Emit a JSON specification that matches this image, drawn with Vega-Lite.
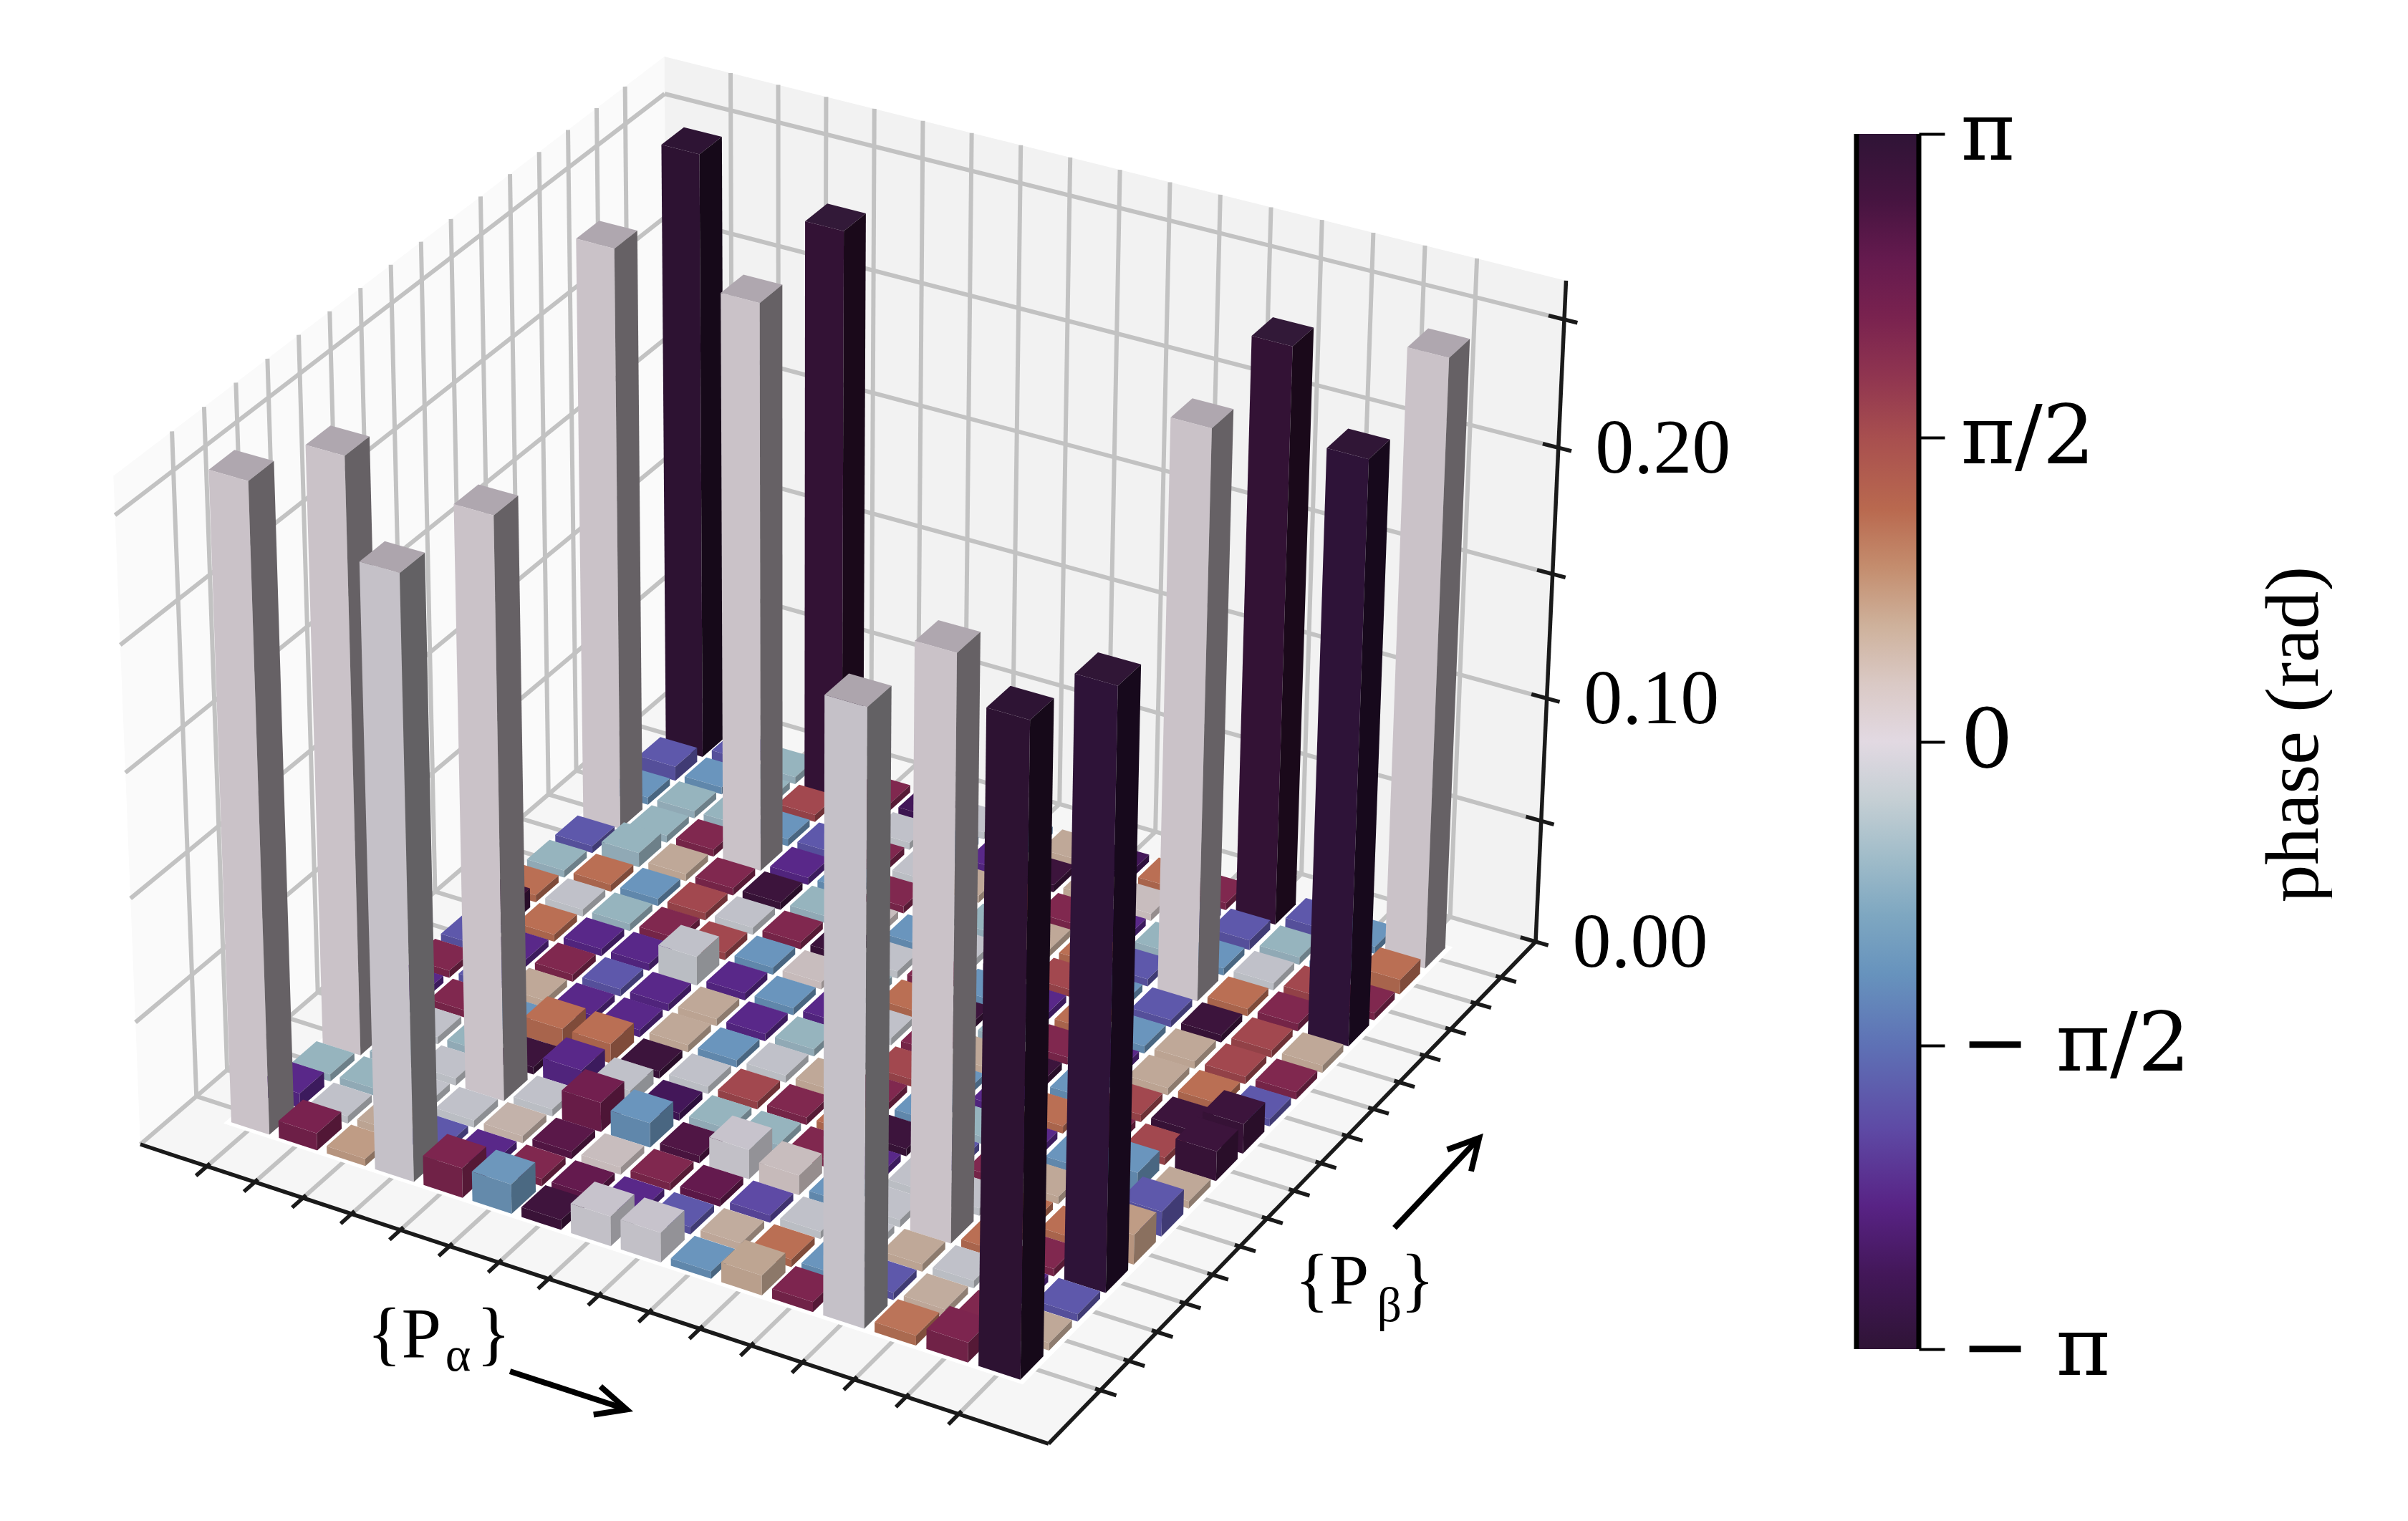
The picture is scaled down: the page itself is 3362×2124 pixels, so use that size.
{
"$schema":"https://vega.github.io/schema/vega-lite/v6.json",
"padding":0,
"background":"white",
"config":{"view":{"stroke":null}},
"spacing":0,
"datasets":{
"bars":[
{"i":0,"j":15,"h":0.25,"phase":3.1},{"i":1,"j":15,"h":0.004,"phase":-1.85},{"i":2,"j":15,"h":0.003,"phase":-0.6},{"i":3,"j":15,"h":0.234,"phase":3.0},{"i":4,"j":15,"h":0.003,"phase":2.1},{"i":5,"j":15,"h":0.003,"phase":-2.75},{"i":6,"j":15,"h":0.003,"phase":-0.2},{"i":7,"j":15,"h":0.003,"phase":-1.15},{"i":8,"j":15,"h":0.003,"phase":0.55},{"i":9,"j":15,"h":0.003,"phase":-2.75},{"i":10,"j":15,"h":0.003,"phase":1.15},{"i":11,"j":15,"h":0.003,"phase":2.1},{"i":12,"j":15,"h":0.234,"phase":3.0},{"i":13,"j":15,"h":0.004,"phase":-1.85},{"i":14,"j":15,"h":0.003,"phase":-1.15},{"i":15,"j":15,"h":0.245,"phase":0.03},
{"i":0,"j":14,"h":0.006,"phase":-1.85},{"i":1,"j":14,"h":0.003,"phase":-1.15},{"i":2,"j":14,"h":0.003,"phase":-0.6},{"i":3,"j":14,"h":0.003,"phase":1.65},{"i":4,"j":14,"h":0.003,"phase":2.1},{"i":5,"j":14,"h":0.003,"phase":-0.2},{"i":6,"j":14,"h":0.003,"phase":-1.15},{"i":7,"j":14,"h":0.003,"phase":-2.35},{"i":8,"j":14,"h":0.003,"phase":2.95},{"i":9,"j":14,"h":0.003,"phase":0.55},{"i":10,"j":14,"h":0.003,"phase":0.2},{"i":11,"j":14,"h":0.003,"phase":-1.85},{"i":12,"j":14,"h":0.004,"phase":-1.85},{"i":13,"j":14,"h":0.003,"phase":-0.6},{"i":14,"j":14,"h":0.003,"phase":-1.15},{"i":15,"j":14,"h":0.006,"phase":1.15},
{"i":0,"j":13,"h":0.003,"phase":-1.15},{"i":1,"j":13,"h":0.003,"phase":-0.6},{"i":2,"j":13,"h":0.003,"phase":-0.6},{"i":3,"j":13,"h":0.003,"phase":-1.15},{"i":4,"j":13,"h":0.003,"phase":-1.85},{"i":5,"j":13,"h":0.003,"phase":2.1},{"i":6,"j":13,"h":0.003,"phase":-0.2},{"i":7,"j":13,"h":0.003,"phase":0.55},{"i":8,"j":13,"h":0.003,"phase":1.65},{"i":9,"j":13,"h":0.003,"phase":2.1},{"i":10,"j":13,"h":0.003,"phase":-2.35},{"i":11,"j":13,"h":0.003,"phase":-0.6},{"i":12,"j":13,"h":0.003,"phase":-1.15},{"i":13,"j":13,"h":0.003,"phase":-0.2},{"i":14,"j":13,"h":0.003,"phase":1.65},{"i":15,"j":13,"h":0.003,"phase":2.1},
{"i":0,"j":12,"h":0.239,"phase":0.03},{"i":1,"j":12,"h":0.003,"phase":-0.6},{"i":2,"j":12,"h":0.003,"phase":2.1},{"i":3,"j":12,"h":0.2325,"phase":0.03},{"i":4,"j":12,"h":0.003,"phase":-2.35},{"i":5,"j":12,"h":0.003,"phase":-1.15},{"i":6,"j":12,"h":0.003,"phase":2.1},{"i":7,"j":12,"h":0.003,"phase":-0.2},{"i":8,"j":12,"h":0.003,"phase":-0.6},{"i":9,"j":12,"h":0.003,"phase":0.55},{"i":10,"j":12,"h":0.003,"phase":1.15},{"i":11,"j":12,"h":0.003,"phase":-1.85},{"i":12,"j":12,"h":0.23,"phase":0.03},{"i":13,"j":12,"h":0.003,"phase":1.15},{"i":14,"j":12,"h":0.003,"phase":2.1},{"i":15,"j":12,"h":0.234,"phase":-3.05},
{"i":0,"j":11,"h":0.003,"phase":-1.85},{"i":1,"j":11,"h":0.006,"phase":-0.6},{"i":2,"j":11,"h":0.003,"phase":0.55},{"i":3,"j":11,"h":0.003,"phase":2.1},{"i":4,"j":11,"h":0.003,"phase":2.95},{"i":5,"j":11,"h":0.003,"phase":-0.6},{"i":6,"j":11,"h":0.003,"phase":0.2},{"i":7,"j":11,"h":0.003,"phase":-1.15},{"i":8,"j":11,"h":0.003,"phase":-0.2},{"i":9,"j":11,"h":0.003,"phase":-2.75},{"i":10,"j":11,"h":0.003,"phase":1.65},{"i":11,"j":11,"h":0.003,"phase":-1.15},{"i":12,"j":11,"h":0.003,"phase":-1.85},{"i":13,"j":11,"h":0.003,"phase":2.95},{"i":14,"j":11,"h":0.003,"phase":1.65},{"i":15,"j":11,"h":0.003,"phase":0.55},
{"i":0,"j":10,"h":0.003,"phase":-0.6},{"i":1,"j":10,"h":0.003,"phase":1.15},{"i":2,"j":10,"h":0.003,"phase":-1.15},{"i":3,"j":10,"h":0.003,"phase":1.65},{"i":4,"j":10,"h":0.003,"phase":-0.2},{"i":5,"j":10,"h":0.003,"phase":2.1},{"i":6,"j":10,"h":0.003,"phase":2.95},{"i":7,"j":10,"h":0.003,"phase":-0.2},{"i":8,"j":10,"h":0.003,"phase":2.1},{"i":9,"j":10,"h":0.003,"phase":-1.15},{"i":10,"j":10,"h":0.003,"phase":-2.35},{"i":11,"j":10,"h":0.003,"phase":1.15},{"i":12,"j":10,"h":0.003,"phase":-1.15},{"i":13,"j":10,"h":0.003,"phase":0.55},{"i":14,"j":10,"h":0.003,"phase":1.65},{"i":15,"j":10,"h":0.003,"phase":2.1},
{"i":0,"j":9,"h":0.003,"phase":1.15},{"i":1,"j":9,"h":0.003,"phase":-0.2},{"i":2,"j":9,"h":0.003,"phase":-0.6},{"i":3,"j":9,"h":0.003,"phase":2.1},{"i":4,"j":9,"h":0.003,"phase":1.65},{"i":5,"j":9,"h":0.003,"phase":-1.15},{"i":6,"j":9,"h":0.003,"phase":0.2},{"i":7,"j":9,"h":0.003,"phase":-0.6},{"i":8,"j":9,"h":0.003,"phase":1.15},{"i":9,"j":9,"h":0.003,"phase":2.95},{"i":10,"j":9,"h":0.003,"phase":-0.6},{"i":11,"j":9,"h":0.003,"phase":2.1},{"i":12,"j":9,"h":0.003,"phase":-2.35},{"i":13,"j":9,"h":0.003,"phase":0.55},{"i":14,"j":9,"h":0.003,"phase":1.15},{"i":15,"j":9,"h":0.003,"phase":-1.85},
{"i":0,"j":8,"h":0.008,"phase":2.95},{"i":1,"j":8,"h":0.003,"phase":1.15},{"i":2,"j":8,"h":0.003,"phase":-2.35},{"i":3,"j":8,"h":0.003,"phase":-2.35},{"i":4,"j":8,"h":0.012,"phase":-0.2},{"i":5,"j":8,"h":0.003,"phase":-2.35},{"i":6,"j":8,"h":0.003,"phase":-1.15},{"i":7,"j":8,"h":0.003,"phase":-2.35},{"i":8,"j":8,"h":0.003,"phase":-0.2},{"i":9,"j":8,"h":0.003,"phase":2.1},{"i":10,"j":8,"h":0.003,"phase":0.55},{"i":11,"j":8,"h":0.003,"phase":2.95},{"i":12,"j":8,"h":0.003,"phase":-1.15},{"i":13,"j":8,"h":0.003,"phase":1.65},{"i":14,"j":8,"h":0.003,"phase":2.95},{"i":15,"j":8,"h":0.012,"phase":2.95},
{"i":0,"j":7,"h":0.003,"phase":-1.85},{"i":1,"j":7,"h":0.003,"phase":-2.35},{"i":2,"j":7,"h":0.003,"phase":2.1},{"i":3,"j":7,"h":0.003,"phase":-1.85},{"i":4,"j":7,"h":0.003,"phase":-2.35},{"i":5,"j":7,"h":0.003,"phase":0.55},{"i":6,"j":7,"h":0.003,"phase":-2.35},{"i":7,"j":7,"h":0.003,"phase":-0.6},{"i":8,"j":7,"h":0.003,"phase":-0.2},{"i":9,"j":7,"h":0.003,"phase":1.65},{"i":10,"j":7,"h":0.003,"phase":-1.15},{"i":11,"j":7,"h":0.003,"phase":-2.35},{"i":12,"j":7,"h":0.003,"phase":1.15},{"i":13,"j":7,"h":0.003,"phase":2.1},{"i":14,"j":7,"h":0.003,"phase":1.65},{"i":15,"j":7,"h":0.012,"phase":2.95},
{"i":0,"j":6,"h":0.003,"phase":2.1},{"i":1,"j":6,"h":0.003,"phase":-1.85},{"i":2,"j":6,"h":0.003,"phase":0.55},{"i":3,"j":6,"h":0.003,"phase":-2.35},{"i":4,"j":6,"h":0.003,"phase":-2.35},{"i":5,"j":6,"h":0.003,"phase":0.55},{"i":6,"j":6,"h":0.003,"phase":-1.15},{"i":7,"j":6,"h":0.003,"phase":-0.2},{"i":8,"j":6,"h":0.003,"phase":0.55},{"i":9,"j":6,"h":0.003,"phase":2.1},{"i":10,"j":6,"h":0.003,"phase":-1.15},{"i":11,"j":6,"h":0.003,"phase":-0.6},{"i":12,"j":6,"h":0.003,"phase":-2.35},{"i":13,"j":6,"h":0.003,"phase":-1.15},{"i":14,"j":6,"h":0.008,"phase":-1.15},{"i":15,"j":6,"h":0.003,"phase":0.55},
{"i":0,"j":5,"h":0.003,"phase":-2.35},{"i":1,"j":5,"h":0.003,"phase":2.1},{"i":2,"j":5,"h":0.003,"phase":-1.15},{"i":3,"j":5,"h":0.008,"phase":1.15},{"i":4,"j":5,"h":0.008,"phase":1.15},{"i":5,"j":5,"h":0.003,"phase":2.95},{"i":6,"j":5,"h":0.003,"phase":-0.2},{"i":7,"j":5,"h":0.003,"phase":1.65},{"i":8,"j":5,"h":0.003,"phase":2.1},{"i":9,"j":5,"h":0.003,"phase":1.15},{"i":10,"j":5,"h":0.003,"phase":2.95},{"i":11,"j":5,"h":0.003,"phase":-1.85},{"i":12,"j":5,"h":0.003,"phase":2.1},{"i":13,"j":5,"h":0.003,"phase":0.55},{"i":14,"j":5,"h":0.003,"phase":-0.2},{"i":15,"j":5,"h":0.01,"phase":-1.85},
{"i":0,"j":4,"h":0.003,"phase":-0.6},{"i":1,"j":4,"h":0.003,"phase":-0.2},{"i":2,"j":4,"h":0.003,"phase":-0.6},{"i":3,"j":4,"h":0.003,"phase":2.95},{"i":4,"j":4,"h":0.008,"phase":-2.35},{"i":5,"j":4,"h":0.006,"phase":-0.2},{"i":6,"j":4,"h":0.003,"phase":-2.75},{"i":7,"j":4,"h":0.003,"phase":-0.6},{"i":8,"j":4,"h":0.003,"phase":-0.6},{"i":9,"j":4,"h":0.003,"phase":2.1},{"i":10,"j":4,"h":0.003,"phase":-2.35},{"i":11,"j":4,"h":0.003,"phase":-0.2},{"i":12,"j":4,"h":0.003,"phase":-0.2},{"i":13,"j":4,"h":0.003,"phase":1.15},{"i":14,"j":4,"h":0.003,"phase":1.15},{"i":15,"j":4,"h":0.012,"phase":0.7},
{"i":0,"j":3,"h":0.2406,"phase":0.03},{"i":1,"j":3,"h":0.003,"phase":-0.6},{"i":2,"j":3,"h":0.003,"phase":-0.2},{"i":3,"j":3,"h":0.2337,"phase":0.03},{"i":4,"j":3,"h":0.003,"phase":-0.2},{"i":5,"j":3,"h":0.012,"phase":2.3},{"i":6,"j":3,"h":0.01,"phase":-1.15},{"i":7,"j":3,"h":0.003,"phase":2.7},{"i":8,"j":3,"h":0.012,"phase":-0.1},{"i":9,"j":3,"h":0.008,"phase":0.2},{"i":10,"j":3,"h":0.003,"phase":-1.15},{"i":11,"j":3,"h":0.003,"phase":-0.2},{"i":12,"j":3,"h":0.231,"phase":0.03},{"i":13,"j":3,"h":0.003,"phase":1.15},{"i":14,"j":3,"h":0.003,"phase":2.1},{"i":15,"j":3,"h":0.2356,"phase":-3.05},
{"i":0,"j":2,"h":0.003,"phase":-0.6},{"i":1,"j":2,"h":0.003,"phase":-0.6},{"i":2,"j":2,"h":0.003,"phase":-0.2},{"i":3,"j":2,"h":0.003,"phase":-0.2},{"i":4,"j":2,"h":0.003,"phase":0.4},{"i":5,"j":2,"h":0.003,"phase":2.6},{"i":6,"j":2,"h":0.003,"phase":0.2},{"i":7,"j":2,"h":0.003,"phase":2.1},{"i":8,"j":2,"h":0.003,"phase":2.5},{"i":9,"j":2,"h":0.003,"phase":-2.0},{"i":10,"j":2,"h":0.003,"phase":-0.2},{"i":11,"j":2,"h":0.003,"phase":-0.2},{"i":12,"j":2,"h":0.003,"phase":0.55},{"i":13,"j":2,"h":0.003,"phase":-0.2},{"i":14,"j":2,"h":0.003,"phase":-2.35},{"i":15,"j":2,"h":0.003,"phase":-1.85},
{"i":0,"j":1,"h":0.006,"phase":-2.35},{"i":1,"j":1,"h":0.003,"phase":-0.2},{"i":2,"j":1,"h":0.003,"phase":0.55},{"i":3,"j":1,"h":0.003,"phase":-1.85},{"i":4,"j":1,"h":0.003,"phase":-2.35},{"i":5,"j":1,"h":0.003,"phase":2.1},{"i":6,"j":1,"h":0.003,"phase":2.5},{"i":7,"j":1,"h":0.003,"phase":-2.35},{"i":8,"j":1,"h":0.003,"phase":-1.85},{"i":9,"j":1,"h":0.003,"phase":0.5},{"i":10,"j":1,"h":0.003,"phase":1.15},{"i":11,"j":1,"h":0.003,"phase":-1.15},{"i":12,"j":1,"h":0.003,"phase":-1.85},{"i":13,"j":1,"h":0.003,"phase":0.5},{"i":14,"j":1,"h":0.003,"phase":2.1},{"i":15,"j":1,"h":0.003,"phase":0.55},
{"i":0,"j":0,"h":0.2594,"phase":0.03},{"i":1,"j":0,"h":0.007,"phase":2.2},{"i":2,"j":0,"h":0.003,"phase":0.7},{"i":3,"j":0,"h":0.2406,"phase":-0.07},{"i":4,"j":0,"h":0.012,"phase":2.15},{"i":5,"j":0,"h":0.012,"phase":-1.1},{"i":6,"j":0,"h":0.004,"phase":2.9},{"i":7,"j":0,"h":0.012,"phase":-0.1},{"i":8,"j":0,"h":0.012,"phase":-0.1},{"i":9,"j":0,"h":0.003,"phase":-1.15},{"i":10,"j":0,"h":0.008,"phase":0.6},{"i":11,"j":0,"h":0.004,"phase":2.15},{"i":12,"j":0,"h":0.2406,"phase":-0.07},{"i":13,"j":0,"h":0.004,"phase":1.1},{"i":14,"j":0,"h":0.008,"phase":2.15},{"i":15,"j":0,"h":0.253,"phase":3.1}
],
"walls":[
{"wall":"left","k":0,"u":-1.4,"v":-1.8,"z":0},{"wall":"left","k":1,"u":-1.4,"v":16.4,"z":0},{"wall":"left","k":2,"u":-1.4,"v":16.4,"z":0.265},{"wall":"left","k":3,"u":-1.4,"v":-1.8,"z":0.265},
{"wall":"back","k":0,"u":-1.4,"v":16.4,"z":0},{"wall":"back","k":1,"u":16.7,"v":16.4,"z":0},{"wall":"back","k":2,"u":16.7,"v":16.4,"z":0.265},{"wall":"back","k":3,"u":-1.4,"v":16.4,"z":0.265},
{"wall":"floor","k":0,"u":-1.4,"v":-1.8,"z":0},{"wall":"floor","k":1,"u":16.7,"v":-1.8,"z":0},{"wall":"floor","k":2,"u":16.7,"v":16.4,"z":0},{"wall":"floor","k":3,"u":-1.4,"v":16.4,"z":0}
],
"inner":[
{"k":0,"u":-0.5,"v":-0.5,"z":0},{"k":1,"u":15.5,"v":-0.5,"z":0},{"k":2,"u":15.5,"v":15.5,"z":0},{"k":3,"u":-0.5,"v":15.5,"z":0}
],
"grid":[
{"u0":0,"v0":-1.8,"z0":0,"u1":0,"v1":16.4,"z1":0},{"u0":1,"v0":-1.8,"z0":0,"u1":1,"v1":16.4,"z1":0},{"u0":2,"v0":-1.8,"z0":0,"u1":2,"v1":16.4,"z1":0},{"u0":3,"v0":-1.8,"z0":0,"u1":3,"v1":16.4,"z1":0},{"u0":4,"v0":-1.8,"z0":0,"u1":4,"v1":16.4,"z1":0},{"u0":5,"v0":-1.8,"z0":0,"u1":5,"v1":16.4,"z1":0},{"u0":6,"v0":-1.8,"z0":0,"u1":6,"v1":16.4,"z1":0},{"u0":7,"v0":-1.8,"z0":0,"u1":7,"v1":16.4,"z1":0},{"u0":8,"v0":-1.8,"z0":0,"u1":8,"v1":16.4,"z1":0},{"u0":9,"v0":-1.8,"z0":0,"u1":9,"v1":16.4,"z1":0},{"u0":10,"v0":-1.8,"z0":0,"u1":10,"v1":16.4,"z1":0},{"u0":11,"v0":-1.8,"z0":0,"u1":11,"v1":16.4,"z1":0},{"u0":12,"v0":-1.8,"z0":0,"u1":12,"v1":16.4,"z1":0},{"u0":13,"v0":-1.8,"z0":0,"u1":13,"v1":16.4,"z1":0},{"u0":14,"v0":-1.8,"z0":0,"u1":14,"v1":16.4,"z1":0},{"u0":15,"v0":-1.8,"z0":0,"u1":15,"v1":16.4,"z1":0},
{"u0":-1.4,"v0":0,"z0":0,"u1":16.7,"v1":0,"z1":0},{"u0":-1.4,"v0":1,"z0":0,"u1":16.7,"v1":1,"z1":0},{"u0":-1.4,"v0":2,"z0":0,"u1":16.7,"v1":2,"z1":0},{"u0":-1.4,"v0":3,"z0":0,"u1":16.7,"v1":3,"z1":0},{"u0":-1.4,"v0":4,"z0":0,"u1":16.7,"v1":4,"z1":0},{"u0":-1.4,"v0":5,"z0":0,"u1":16.7,"v1":5,"z1":0},{"u0":-1.4,"v0":6,"z0":0,"u1":16.7,"v1":6,"z1":0},{"u0":-1.4,"v0":7,"z0":0,"u1":16.7,"v1":7,"z1":0},{"u0":-1.4,"v0":8,"z0":0,"u1":16.7,"v1":8,"z1":0},{"u0":-1.4,"v0":9,"z0":0,"u1":16.7,"v1":9,"z1":0},{"u0":-1.4,"v0":10,"z0":0,"u1":16.7,"v1":10,"z1":0},{"u0":-1.4,"v0":11,"z0":0,"u1":16.7,"v1":11,"z1":0},{"u0":-1.4,"v0":12,"z0":0,"u1":16.7,"v1":12,"z1":0},{"u0":-1.4,"v0":13,"z0":0,"u1":16.7,"v1":13,"z1":0},{"u0":-1.4,"v0":14,"z0":0,"u1":16.7,"v1":14,"z1":0},{"u0":-1.4,"v0":15,"z0":0,"u1":16.7,"v1":15,"z1":0},
{"u0":0,"v0":16.4,"z0":0,"u1":0,"v1":16.4,"z1":0.265},{"u0":1,"v0":16.4,"z0":0,"u1":1,"v1":16.4,"z1":0.265},{"u0":2,"v0":16.4,"z0":0,"u1":2,"v1":16.4,"z1":0.265},{"u0":3,"v0":16.4,"z0":0,"u1":3,"v1":16.4,"z1":0.265},{"u0":4,"v0":16.4,"z0":0,"u1":4,"v1":16.4,"z1":0.265},{"u0":5,"v0":16.4,"z0":0,"u1":5,"v1":16.4,"z1":0.265},{"u0":6,"v0":16.4,"z0":0,"u1":6,"v1":16.4,"z1":0.265},{"u0":7,"v0":16.4,"z0":0,"u1":7,"v1":16.4,"z1":0.265},{"u0":8,"v0":16.4,"z0":0,"u1":8,"v1":16.4,"z1":0.265},{"u0":9,"v0":16.4,"z0":0,"u1":9,"v1":16.4,"z1":0.265},{"u0":10,"v0":16.4,"z0":0,"u1":10,"v1":16.4,"z1":0.265},{"u0":11,"v0":16.4,"z0":0,"u1":11,"v1":16.4,"z1":0.265},{"u0":12,"v0":16.4,"z0":0,"u1":12,"v1":16.4,"z1":0.265},{"u0":13,"v0":16.4,"z0":0,"u1":13,"v1":16.4,"z1":0.265},{"u0":14,"v0":16.4,"z0":0,"u1":14,"v1":16.4,"z1":0.265},{"u0":15,"v0":16.4,"z0":0,"u1":15,"v1":16.4,"z1":0.265},
{"u0":-1.4,"v0":0,"z0":0,"u1":-1.4,"v1":0,"z1":0.265},{"u0":-1.4,"v0":1,"z0":0,"u1":-1.4,"v1":1,"z1":0.265},{"u0":-1.4,"v0":2,"z0":0,"u1":-1.4,"v1":2,"z1":0.265},{"u0":-1.4,"v0":3,"z0":0,"u1":-1.4,"v1":3,"z1":0.265},{"u0":-1.4,"v0":4,"z0":0,"u1":-1.4,"v1":4,"z1":0.265},{"u0":-1.4,"v0":5,"z0":0,"u1":-1.4,"v1":5,"z1":0.265},{"u0":-1.4,"v0":6,"z0":0,"u1":-1.4,"v1":6,"z1":0.265},{"u0":-1.4,"v0":7,"z0":0,"u1":-1.4,"v1":7,"z1":0.265},{"u0":-1.4,"v0":8,"z0":0,"u1":-1.4,"v1":8,"z1":0.265},{"u0":-1.4,"v0":9,"z0":0,"u1":-1.4,"v1":9,"z1":0.265},{"u0":-1.4,"v0":10,"z0":0,"u1":-1.4,"v1":10,"z1":0.265},{"u0":-1.4,"v0":11,"z0":0,"u1":-1.4,"v1":11,"z1":0.265},{"u0":-1.4,"v0":12,"z0":0,"u1":-1.4,"v1":12,"z1":0.265},{"u0":-1.4,"v0":13,"z0":0,"u1":-1.4,"v1":13,"z1":0.265},{"u0":-1.4,"v0":14,"z0":0,"u1":-1.4,"v1":14,"z1":0.265},{"u0":-1.4,"v0":15,"z0":0,"u1":-1.4,"v1":15,"z1":0.265},
{"u0":-1.4,"v0":16.4,"z0":0.05,"u1":16.7,"v1":16.4,"z1":0.05},{"u0":-1.4,"v0":16.4,"z0":0.1,"u1":16.7,"v1":16.4,"z1":0.1},{"u0":-1.4,"v0":16.4,"z0":0.15,"u1":16.7,"v1":16.4,"z1":0.15},{"u0":-1.4,"v0":16.4,"z0":0.2,"u1":16.7,"v1":16.4,"z1":0.2},{"u0":-1.4,"v0":16.4,"z0":0.25,"u1":16.7,"v1":16.4,"z1":0.25},
{"u0":-1.4,"v0":-1.8,"z0":0.05,"u1":-1.4,"v1":16.4,"z1":0.05},{"u0":-1.4,"v0":-1.8,"z0":0.1,"u1":-1.4,"v1":16.4,"z1":0.1},{"u0":-1.4,"v0":-1.8,"z0":0.15,"u1":-1.4,"v1":16.4,"z1":0.15},{"u0":-1.4,"v0":-1.8,"z0":0.2,"u1":-1.4,"v1":16.4,"z1":0.2},{"u0":-1.4,"v0":-1.8,"z0":0.25,"u1":-1.4,"v1":16.4,"z1":0.25},
{"u0":-1.4,"v0":-1.8,"z0":0,"u1":-1.4,"v1":16.4,"z1":0},{"u0":-1.4,"v0":16.4,"z0":0,"u1":16.7,"v1":16.4,"z1":0}
],
"axes":[
{"u0":-1.4,"v0":-1.8,"z0":0,"u1":16.7,"v1":-1.8,"z1":0},{"u0":16.7,"v0":-1.8,"z0":0,"u1":16.7,"v1":16.4,"z1":0},{"u0":16.7,"v0":16.4,"z0":0,"u1":16.7,"v1":16.4,"z1":0.265},
{"u0":0,"v0":-1.7,"z0":0,"u1":0,"v1":-2.15,"z1":0},{"u0":1,"v0":-1.7,"z0":0,"u1":1,"v1":-2.15,"z1":0},{"u0":2,"v0":-1.7,"z0":0,"u1":2,"v1":-2.15,"z1":0},{"u0":3,"v0":-1.7,"z0":0,"u1":3,"v1":-2.15,"z1":0},{"u0":4,"v0":-1.7,"z0":0,"u1":4,"v1":-2.15,"z1":0},{"u0":5,"v0":-1.7,"z0":0,"u1":5,"v1":-2.15,"z1":0},{"u0":6,"v0":-1.7,"z0":0,"u1":6,"v1":-2.15,"z1":0},{"u0":7,"v0":-1.7,"z0":0,"u1":7,"v1":-2.15,"z1":0},{"u0":8,"v0":-1.7,"z0":0,"u1":8,"v1":-2.15,"z1":0},{"u0":9,"v0":-1.7,"z0":0,"u1":9,"v1":-2.15,"z1":0},{"u0":10,"v0":-1.7,"z0":0,"u1":10,"v1":-2.15,"z1":0},{"u0":11,"v0":-1.7,"z0":0,"u1":11,"v1":-2.15,"z1":0},{"u0":12,"v0":-1.7,"z0":0,"u1":12,"v1":-2.15,"z1":0},{"u0":13,"v0":-1.7,"z0":0,"u1":13,"v1":-2.15,"z1":0},{"u0":14,"v0":-1.7,"z0":0,"u1":14,"v1":-2.15,"z1":0},{"u0":15,"v0":-1.7,"z0":0,"u1":15,"v1":-2.15,"z1":0},
{"u0":16.6,"v0":0,"z0":0,"u1":17,"v1":0,"z1":0},{"u0":16.6,"v0":1,"z0":0,"u1":17,"v1":1,"z1":0},{"u0":16.6,"v0":2,"z0":0,"u1":17,"v1":2,"z1":0},{"u0":16.6,"v0":3,"z0":0,"u1":17,"v1":3,"z1":0},{"u0":16.6,"v0":4,"z0":0,"u1":17,"v1":4,"z1":0},{"u0":16.6,"v0":5,"z0":0,"u1":17,"v1":5,"z1":0},{"u0":16.6,"v0":6,"z0":0,"u1":17,"v1":6,"z1":0},{"u0":16.6,"v0":7,"z0":0,"u1":17,"v1":7,"z1":0},{"u0":16.6,"v0":8,"z0":0,"u1":17,"v1":8,"z1":0},{"u0":16.6,"v0":9,"z0":0,"u1":17,"v1":9,"z1":0},{"u0":16.6,"v0":10,"z0":0,"u1":17,"v1":10,"z1":0},{"u0":16.6,"v0":11,"z0":0,"u1":17,"v1":11,"z1":0},{"u0":16.6,"v0":12,"z0":0,"u1":17,"v1":12,"z1":0},{"u0":16.6,"v0":13,"z0":0,"u1":17,"v1":13,"z1":0},{"u0":16.6,"v0":14,"z0":0,"u1":17,"v1":14,"z1":0},{"u0":16.6,"v0":15,"z0":0,"u1":17,"v1":15,"z1":0},
{"u0":16.4,"v0":16.4,"z0":0,"u1":16.95,"v1":16.4,"z1":0},{"u0":16.4,"v0":16.4,"z0":0.05,"u1":16.95,"v1":16.4,"z1":0.05},{"u0":16.4,"v0":16.4,"z0":0.1,"u1":16.95,"v1":16.4,"z1":0.1},{"u0":16.4,"v0":16.4,"z0":0.15,"u1":16.95,"v1":16.4,"z1":0.15},{"u0":16.4,"v0":16.4,"z0":0.2,"u1":16.95,"v1":16.4,"z1":0.2},{"u0":16.4,"v0":16.4,"z0":0.25,"u1":16.95,"v1":16.4,"z1":0.25}
],
"zlabels":[
{"label":"0.00","u":16.7,"v":16.4,"z":0},{"label":"0.10","u":16.7,"v":16.4,"z":0.1},{"label":"0.20","u":16.7,"v":16.4,"z":0.2}
],
"names":[
{"label":"{P","u":5.575,"v":-5.368,"z":0},{"label":"}","u":7.17,"v":-4.43,"z":0},{"label":"{P","u":18.3,"v":3.93,"z":0},{"label":"}","u":19.83,"v":4.82,"z":0}
],
"subs":[
{"label":"α","u":6.93,"v":-5.04,"z":0},{"label":"β","u":19.74,"v":4.14,"z":0}
],
"arrows":[
{"path":"a0","k":0,"u":7.885,"v":-4.508,"z":0},{"path":"a0","k":1,"u":10.16,"v":-4.48,"z":0},
{"path":"a1","k":0,"u":9.43,"v":-4.12,"z":0},{"path":"a1","k":1,"u":10.16,"v":-4.48,"z":0},{"path":"a1","k":2,"u":9.76,"v":-4.89,"z":0},
{"path":"b0","k":0,"u":18.71,"v":6.83,"z":0},{"path":"b0","k":1,"u":18.7,"v":10.09,"z":0},
{"path":"b1","k":0,"u":18.39,"v":9.48,"z":0},{"path":"b1","k":1,"u":18.7,"v":10.09,"z":0},{"path":"b1","k":2,"u":19.05,"v":9.07,"z":0}
],
"cbar":[
{"lo":-3.14159,"hi":3.14159}
],
"frame":[
{"side":0,"lo":-3.14159,"hi":3.14159},{"side":1,"lo":-3.14159,"hi":3.14159}
]
},
"hconcat":[
{
"width":2588,
"height":2124,
"resolve":{"scale":{"fill":"independent"}},
"layer":[
{
"data":{"name":"walls"},
"transform":[
{"calculate":"1-0.05706*(datum.u+1.4)/18.1+0.08*(datum.v+1.8)/18.2-0.04*datum.z/0.265","as":"W"},
{"calculate":"(196+1184.5*(datum.u+1.4)/18.1+812.7*(datum.v+1.8)/18.2-44*datum.z/0.265)/datum.W","as":"X"},
{"calculate":"(1598+303*(datum.u+1.4)/18.1-555.8*(datum.v+1.8)/18.2-960*datum.z/0.265)/datum.W","as":"Y"}
],
"mark":{"type":"line","strokeWidth":0,"strokeOpacity":0},
"encoding":{
"x":{"field":"X","type":"quantitative","axis":null,"scale":{"domain":[0,2588],"nice":false,"zero":false}},
"y":{"field":"Y","type":"quantitative","axis":null,"scale":{"domain":[2124,0],"nice":false,"zero":false}},
"order":{"field":"k"},
"detail":{"field":"wall"},
"fill":{"field":"wall","type":"nominal","legend":null,"scale":{"domain":["left","back","floor"],"range":["#fafafa","#f2f2f2","#f6f6f6"]}}
}
},
{
"data":{"name":"grid"},
"transform":[
{"calculate":"1-0.05706*(datum.u0+1.4)/18.1+0.08*(datum.v0+1.8)/18.2-0.04*datum.z0/0.265","as":"W0"},
{"calculate":"(196+1184.5*(datum.u0+1.4)/18.1+812.7*(datum.v0+1.8)/18.2-44*datum.z0/0.265)/datum.W0","as":"X0"},
{"calculate":"(1598+303*(datum.u0+1.4)/18.1-555.8*(datum.v0+1.8)/18.2-960*datum.z0/0.265)/datum.W0","as":"Y0"},
{"calculate":"1-0.05706*(datum.u1+1.4)/18.1+0.08*(datum.v1+1.8)/18.2-0.04*datum.z1/0.265","as":"W1"},
{"calculate":"(196+1184.5*(datum.u1+1.4)/18.1+812.7*(datum.v1+1.8)/18.2-44*datum.z1/0.265)/datum.W1","as":"X1"},
{"calculate":"(1598+303*(datum.u1+1.4)/18.1-555.8*(datum.v1+1.8)/18.2-960*datum.z1/0.265)/datum.W1","as":"Y1"}
],
"mark":{"type":"rule","color":"#c2c2c2","strokeWidth":6},
"encoding":{
"x":{"field":"X0","type":"quantitative","axis":null,"scale":{"domain":[0,2588],"nice":false,"zero":false}},
"y":{"field":"Y0","type":"quantitative","axis":null,"scale":{"domain":[2124,0],"nice":false,"zero":false}},
"x2":{"field":"X1"},
"y2":{"field":"Y1"}
}
},
{
"data":{"name":"inner"},
"transform":[
{"calculate":"1-0.05706*(datum.u+1.4)/18.1+0.08*(datum.v+1.8)/18.2-0.04*datum.z/0.265","as":"W"},
{"calculate":"(196+1184.5*(datum.u+1.4)/18.1+812.7*(datum.v+1.8)/18.2-44*datum.z/0.265)/datum.W","as":"X"},
{"calculate":"(1598+303*(datum.u+1.4)/18.1-555.8*(datum.v+1.8)/18.2-960*datum.z/0.265)/datum.W","as":"Y"}
],
"mark":{"type":"line","fill":"white","strokeWidth":0,"strokeOpacity":0},
"encoding":{
"x":{"field":"X","type":"quantitative","axis":null,"scale":{"domain":[0,2588],"nice":false,"zero":false}},
"y":{"field":"Y","type":"quantitative","axis":null,"scale":{"domain":[2124,0],"nice":false,"zero":false}},
"order":{"field":"k"}
}
},
{
"data":{"name":"bars"},
"transform":[
{"calculate":"datum.j*16+datum.i","as":"bar"},
{"calculate":"[0,1,2]","as":"face"},
{"flatten":["face"]},
{"calculate":"[0,1,2,3]","as":"k"},
{"flatten":["k"]},
{"calculate":"datum.face==2 ? 1 : [-1,1,1,-1][datum.k]","as":"su"},
{"calculate":"datum.face==0 ? [-1,-1,1,1][datum.k] : datum.face==1 ? -1 : [-1,1,1,-1][datum.k]","as":"sv"},
{"calculate":"datum.face==0 ? 1 : [0,0,1,1][datum.k]","as":"sz"},
{"calculate":"datum.i+0.4*datum.su","as":"u"},
{"calculate":"datum.j+0.4*datum.sv","as":"v"},
{"calculate":"datum.h*datum.sz","as":"z"},
{"calculate":"datum.phase+10*(datum.face==0 ? (datum.h>0.1 ? 3 : 0) : datum.face==2 ? (datum.h>0.1 ? 2 : 4) : 1)","as":"key"},
{"calculate":"datum.bar*3+datum.face","as":"poly"},
{"calculate":"1-0.05706*(datum.u+1.4)/18.1+0.08*(datum.v+1.8)/18.2-0.04*datum.z/0.265","as":"W"},
{"calculate":"(196+1184.5*(datum.u+1.4)/18.1+812.7*(datum.v+1.8)/18.2-44*datum.z/0.265)/datum.W","as":"X"},
{"calculate":"(1598+303*(datum.u+1.4)/18.1-555.8*(datum.v+1.8)/18.2-960*datum.z/0.265)/datum.W","as":"Y"}
],
"mark":{"type":"line","strokeWidth":0,"strokeOpacity":0},
"encoding":{
"x":{"field":"X","type":"quantitative","axis":null,"scale":{"domain":[0,2588],"nice":false,"zero":false}},
"y":{"field":"Y","type":"quantitative","axis":null,"scale":{"domain":[2124,0],"nice":false,"zero":false}},
"order":{"field":"k"},
"detail":{"field":"poly"},
"fill":{"field":"key","type":"quantitative","legend":null,"scale":{"interpolate":"rgb",
"domain":[-3.1416,-2.75,-2.4,-2,-1.57,-1.2,-0.9,-0.6,-0.3,0,0.3,0.6,0.9,1.2,1.57,1.9,2.2,2.5,2.8,3.1416,
6.8584,7.25,7.6,8,8.43,8.8,9.1,9.4,9.7,10,10.3,10.6,10.9,11.2,11.57,11.9,12.2,12.5,12.8,13.1416,
16.8584,17.25,17.6,18,18.43,18.8,19.1,19.4,19.7,20,20.3,20.6,20.9,21.2,21.57,21.9,22.2,22.5,22.8,23.1416,
26.8584,30,33.1416,
36.8584,37.25,37.6,38,38.43,38.8,39.1,39.4,39.7,40,40.3,40.6,40.9,41.2,41.57,41.9,42.2,42.5,42.8,43.1416],
"range":["rgb(47,20,54)","rgb(67,23,89)","rgb(88,35,133)","rgb(94,74,165)","rgb(94,113,181)","rgb(103,147,189)","rgb(122,160,187)","rgb(150,180,190)","rgb(186,190,198)","rgb(205,198,207)","rgb(198,185,182)","rgb(190,165,146)","rgb(192,138,108)","rgb(185,105,79)","rgb(168,79,79)","rgb(143,52,80)","rgb(121,34,79)","rgb(100,26,78)","rgb(70,20,64)","rgb(47,20,54)",
"rgb(42,18,49)","rgb(60,21,80)","rgb(79,32,120)","rgb(85,67,149)","rgb(85,102,163)","rgb(93,132,170)","rgb(113,150,174)","rgb(144,169,181)","rgb(177,186,191)","rgb(203,195,203)","rgb(196,181,177)","rgb(185,159,140)","rgb(176,127,99)","rgb(167,95,71)","rgb(151,71,71)","rgb(129,47,72)","rgb(109,31,71)","rgb(90,23,70)","rgb(63,18,58)","rgb(42,18,49)",
"rgb(21,9,24)","rgb(30,10,40)","rgb(40,16,60)","rgb(42,33,74)","rgb(42,51,81)","rgb(46,66,85)","rgb(57,75,87)","rgb(72,85,90)","rgb(89,93,95)","rgb(102,98,102)","rgb(98,90,89)","rgb(93,80,70)","rgb(88,63,50)","rgb(83,47,36)","rgb(76,36,36)","rgb(64,23,36)","rgb(54,15,36)","rgb(45,12,35)","rgb(32,9,29)","rgb(21,9,24)",
"rgb(44,18,50)","rgb(176,168,176)","rgb(44,18,50)",
"rgb(32,14,37)","rgb(46,16,61)","rgb(60,24,90)","rgb(64,50,112)","rgb(64,77,123)","rgb(70,100,129)","rgb(86,114,131)","rgb(109,128,137)","rgb(134,141,144)","rgb(154,148,154)","rgb(148,137,134)","rgb(140,120,105)","rgb(133,96,75)","rgb(126,71,54)","rgb(114,54,54)","rgb(97,35,54)","rgb(82,23,54)","rgb(68,18,53)","rgb(48,14,44)","rgb(32,14,37)"]}}
}
},
{
"data":{"name":"axes"},
"transform":[
{"calculate":"1-0.05706*(datum.u0+1.4)/18.1+0.08*(datum.v0+1.8)/18.2-0.04*datum.z0/0.265","as":"W0"},
{"calculate":"(196+1184.5*(datum.u0+1.4)/18.1+812.7*(datum.v0+1.8)/18.2-44*datum.z0/0.265)/datum.W0","as":"X0"},
{"calculate":"(1598+303*(datum.u0+1.4)/18.1-555.8*(datum.v0+1.8)/18.2-960*datum.z0/0.265)/datum.W0","as":"Y0"},
{"calculate":"1-0.05706*(datum.u1+1.4)/18.1+0.08*(datum.v1+1.8)/18.2-0.04*datum.z1/0.265","as":"W1"},
{"calculate":"(196+1184.5*(datum.u1+1.4)/18.1+812.7*(datum.v1+1.8)/18.2-44*datum.z1/0.265)/datum.W1","as":"X1"},
{"calculate":"(1598+303*(datum.u1+1.4)/18.1-555.8*(datum.v1+1.8)/18.2-960*datum.z1/0.265)/datum.W1","as":"Y1"}
],
"mark":{"type":"rule","color":"#1a1a1a","strokeWidth":5.5},
"encoding":{
"x":{"field":"X0","type":"quantitative","axis":null,"scale":{"domain":[0,2588],"nice":false,"zero":false}},
"y":{"field":"Y0","type":"quantitative","axis":null,"scale":{"domain":[2124,0],"nice":false,"zero":false}},
"x2":{"field":"X1"},
"y2":{"field":"Y1"}
}
},
{
"data":{"name":"arrows"},
"transform":[
{"calculate":"1-0.05706*(datum.u+1.4)/18.1+0.08*(datum.v+1.8)/18.2-0.04*datum.z/0.265","as":"W"},
{"calculate":"(196+1184.5*(datum.u+1.4)/18.1+812.7*(datum.v+1.8)/18.2-44*datum.z/0.265)/datum.W","as":"X"},
{"calculate":"(1598+303*(datum.u+1.4)/18.1-555.8*(datum.v+1.8)/18.2-960*datum.z/0.265)/datum.W","as":"Y"}
],
"mark":{"type":"line","color":"black","strokeWidth":8},
"encoding":{
"x":{"field":"X","type":"quantitative","axis":null,"scale":{"domain":[0,2588],"nice":false,"zero":false}},
"y":{"field":"Y","type":"quantitative","axis":null,"scale":{"domain":[2124,0],"nice":false,"zero":false}},
"order":{"field":"k"},
"detail":{"field":"path"}
}
},
{
"data":{"name":"zlabels"},
"transform":[
{"calculate":"1-0.05706*(datum.u+1.4)/18.1+0.08*(datum.v+1.8)/18.2-0.04*datum.z/0.265","as":"W"},
{"calculate":"(196+1184.5*(datum.u+1.4)/18.1+812.7*(datum.v+1.8)/18.2-44*datum.z/0.265)/datum.W","as":"X"},
{"calculate":"(1598+303*(datum.u+1.4)/18.1-555.8*(datum.v+1.8)/18.2-960*datum.z/0.265)/datum.W","as":"Y"}
],
"mark":{"type":"text","font":"Liberation Serif","fontSize":108,"align":"center","baseline":"middle","dx":146,"dy":3,"color":"black"},
"encoding":{
"x":{"field":"X","type":"quantitative","axis":null,"scale":{"domain":[0,2588],"nice":false,"zero":false}},
"y":{"field":"Y","type":"quantitative","axis":null,"scale":{"domain":[2124,0],"nice":false,"zero":false}},
"text":{"field":"label"}
}
},
{
"data":{"name":"names"},
"transform":[
{"calculate":"1-0.05706*(datum.u+1.4)/18.1+0.08*(datum.v+1.8)/18.2-0.04*datum.z/0.265","as":"W"},
{"calculate":"(196+1184.5*(datum.u+1.4)/18.1+812.7*(datum.v+1.8)/18.2-44*datum.z/0.265)/datum.W","as":"X"},
{"calculate":"(1598+303*(datum.u+1.4)/18.1-555.8*(datum.v+1.8)/18.2-960*datum.z/0.265)/datum.W","as":"Y"}
],
"mark":{"type":"text","font":"Liberation Serif","fontSize":100,"align":"left","baseline":"alphabetic","color":"black"},
"encoding":{
"x":{"field":"X","type":"quantitative","axis":null,"scale":{"domain":[0,2588],"nice":false,"zero":false}},
"y":{"field":"Y","type":"quantitative","axis":null,"scale":{"domain":[2124,0],"nice":false,"zero":false}},
"text":{"field":"label"}
}
},
{
"data":{"name":"subs"},
"transform":[
{"calculate":"1-0.05706*(datum.u+1.4)/18.1+0.08*(datum.v+1.8)/18.2-0.04*datum.z/0.265","as":"W"},
{"calculate":"(196+1184.5*(datum.u+1.4)/18.1+812.7*(datum.v+1.8)/18.2-44*datum.z/0.265)/datum.W","as":"X"},
{"calculate":"(1598+303*(datum.u+1.4)/18.1-555.8*(datum.v+1.8)/18.2-960*datum.z/0.265)/datum.W","as":"Y"}
],
"mark":{"type":"text","font":"Liberation Serif","fontSize":68,"align":"left","baseline":"alphabetic","color":"black"},
"encoding":{
"x":{"field":"X","type":"quantitative","axis":null,"scale":{"domain":[0,2588],"nice":false,"zero":false}},
"y":{"field":"Y","type":"quantitative","axis":null,"scale":{"domain":[2124,0],"nice":false,"zero":false}},
"text":{"field":"label"}
}
}
]
},
{
"width":87,
"height":2124,
"layer":[
{
"data":{"name":"cbar"},
"mark":{"type":"rect","fill":{"gradient":"linear","x1":0,"y1":1,"x2":0,"y2":0,"stops":[{"offset":0,"color":"#2f1436"},{"offset":0.0623,"color":"#431759"},{"offset":0.118,"color":"#582385"},{"offset":0.1817,"color":"#5e4aa5"},{"offset":0.2501,"color":"#5e71b5"},{"offset":0.309,"color":"#6793bd"},{"offset":0.357,"color":"#7ea7c1"},{"offset":0.4045,"color":"#a0bcc9"},{"offset":0.4523,"color":"#c5cfd4"},{"offset":0.5,"color":"#e2d9e2"},{"offset":0.5477,"color":"#dac9c5"},{"offset":0.5955,"color":"#ceb19b"},{"offset":0.6432,"color":"#c48d6e"},{"offset":0.691,"color":"#b9694f"},{"offset":0.7499,"color":"#a84f4f"},{"offset":0.8024,"color":"#8f3450"},{"offset":0.8501,"color":"#79224f"},{"offset":0.8979,"color":"#641a4e"},{"offset":0.9456,"color":"#461440"},{"offset":1,"color":"#2f1436"}]}},
"encoding":{
"x":{"datum":0,"type":"quantitative","scale":{"domain":[0,1],"nice":false,"zero":false},"axis":null},
"x2":{"datum":1},
"y":{"field":"lo","type":"quantitative","scale":{"domain":[-4.03,3.834],"nice":false,"zero":false},
"axis":{"values":[-3.14159,-1.5708,0,1.5708,3.14159],"labelExpr":"datum.value<-3 ? '− π' : datum.value<-1 ? '− π/2' : datum.value<1 ? '0' : datum.value<3 ? 'π/2' : 'π'","orient":"right","domain":false,"grid":false,"ticks":true,"tickSize":36,"tickWidth":4,"tickColor":"black","labelFont":"DejaVu Serif","labelFontSize":115,"labelColor":"black","labelPadding":22,"labelLimit":0,"labelBound":false,"labelFlush":false,"labelOverlap":false,"title":"phase (rad)","titleFont":"Liberation Serif","titleFontSize":105,"titleFontWeight":"normal","titleColor":"black","titleAngle":270,"titleX":524,"titleY":1025,"titleAlign":"center","titleBaseline":"middle"}},
"y2":{"field":"hi"}
}
},
{
"data":{"name":"frame"},
"mark":{"type":"rule","color":"black","strokeWidth":7},
"encoding":{
"x":{"field":"side","type":"quantitative"},
"y":{"field":"lo","type":"quantitative"},
"y2":{"field":"hi"}
}
}
]
}
],
"resolve":{"scale":{"fill":"independent"}}
}
